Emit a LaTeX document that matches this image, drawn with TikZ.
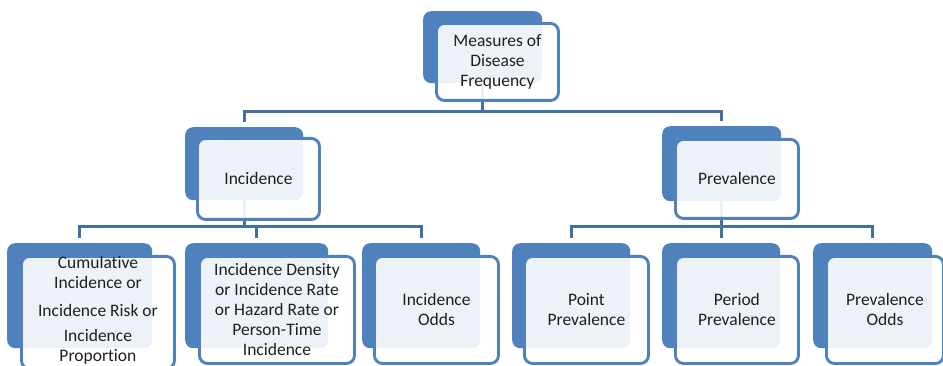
\documentclass[tikz,border=0pt]{standalone}
\usepackage{fontspec}
\setmainfont[Ligatures={NoCommon}]{Carlito}
\usetikzlibrary{calc}
\pgfdeclarelayer{background}
\pgfsetlayers{background,main}

\definecolor{accent}{HTML}{4F81BD}
\definecolor{linkcol}{HTML}{41719C}
\definecolor{inkcol}{HTML}{1F1F1F}

\tikzset{
  backbox/.style={fill=accent, draw=none, rounded corners=8pt, inner sep=0pt},
  frontbox/.style={fill=white, fill opacity=0.9, text opacity=1, draw=accent,
    line width=2.9pt, rounded corners=8pt, inner sep=0pt, align=center,
    text=inkcol, font=\fontsize{17.5}{20}\selectfont},
  conn/.style={draw=linkcol, line width=3pt}
}

% #1 name, #2/#3 back corner, #4/#5 back size, #6/#7 front corner, #8/#9 front size
\newcommand\tierbox[9]{%
  \node[backbox, anchor=north west, minimum width=#4pt, minimum height=#5pt] (#1-b) at (#2,#3) {};
  \node[frontbox, anchor=north west, minimum width=#8pt, minimum height=#9pt] (#1) at (#6,#7)}

\begin{document}
\begin{tikzpicture}[x=1pt, y=-1pt]
\useasboundingbox (0,0) rectangle (943,366);

\coordinate (bus1) at (0,112);
\coordinate (bus2) at (0,227);

\tierbox{top}{423}{11}{119}{72}{435}{22}{122}{77}
  {\fontsize{17.5}{19.5}\selectfont Measures of\\ Disease\\ Frequency};
\tierbox{inc}{185}{127}{118}{73}{196}{137}{122}{81}{Incidence};
\tierbox{prev}{662}{126}{119}{75}{674}{138}{123}{79}{Prevalence};

\tierbox{cum}{7}{243}{145}{105}{20}{255}{153}{108}
  {Cumulative\\ Incidence or\\[8pt] Incidence Risk or\\[5pt] Incidence\\ Proportion\rule[-7pt]{0pt}{0pt}};
\tierbox{dens}{185}{243}{143}{105}{198}{255}{155}{107}
  {\fontsize{17.5}{18.8}\selectfont Incidence Density\\ or Incidence Rate\\ or Hazard Rate or\\ Person-Time\\ Incidence};
\tierbox{iodds}{362}{243}{118}{105}{373}{255}{124}{107}{Incidence\\ Odds};
\tierbox{point}{512}{243}{118}{105}{523}{255}{124}{107}{Point\\ Prevalence};
\tierbox{period}{662}{243}{118}{105}{674}{255}{123}{107}{Period\\ Prevalence};
\tierbox{podds}{813}{243}{119}{105}{825}{255}{117}{107}{Prevalence\\ Odds};

\begin{pgfonlayer}{background}
  \draw[conn] (top-b.center) -- (top-b.center |- bus1) -| ([yshift=5pt]inc-b.north);
  \draw[conn] (top-b.center) -- (top-b.center |- bus1) -| ([yshift=5pt]prev-b.north);
  \foreach \c in {cum,dens,iodds}
    \draw[conn] (inc-b.center) -- (inc-b.center |- bus2) -| ([yshift=5pt]\c-b.north);
  \foreach \c in {point,period,podds}
    \draw[conn] (prev-b.center) -- (prev-b.center |- bus2) -| ([yshift=5pt]\c-b.north);
\end{pgfonlayer}
\end{tikzpicture}
\end{document}
